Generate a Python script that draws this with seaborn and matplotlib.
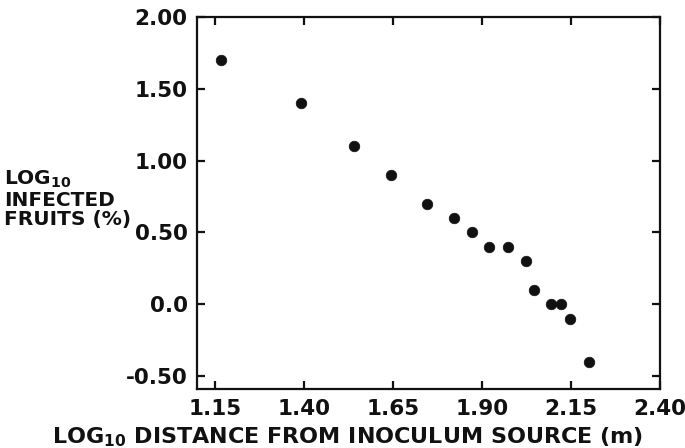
import pandas as pd
import seaborn as sns
import matplotlib.pyplot as plt

# Values
log_distance = [1.166, 1.393, 1.542, 1.645, 1.745, 1.821, 1.872, 1.920,
                1.974, 2.024, 2.046, 2.095, 2.122, 2.147, 2.200]
log_infected = [1.70, 1.40, 1.10, 0.90, 0.70, 0.60, 0.50, 0.40,
                0.40, 0.30, 0.10, 0.00, 0.00, -0.10, -0.40]

x_ticks = [1.15, 1.40, 1.65, 1.90, 2.15, 2.40]
x_tick_labels = ['1.15', '1.40', '1.65', '1.90', '2.15', '2.40']
y_ticks = [2.00, 1.50, 1.00, 0.50, 0.0, -0.50]
y_tick_labels = ['2.00', '1.50', '1.00', '0.50', '0.0', '-0.50']

df = pd.DataFrame({'distance': log_distance, 'infected': log_infected})

sns.set_style('ticks')
plt.rcParams['font.family'] = ['DejaVu Sans']
plt.rcParams['font.weight'] = 'bold'
plt.rcParams['mathtext.default'] = 'regular'

fig = plt.figure(figsize=(6.85, 4.48), dpi=100)
ax = fig.add_axes([0.288, 0.132, 0.675, 0.830])

sns.scatterplot(data=df, x='distance', y='infected', ax=ax,
                color='#111111', s=58, edgecolor='#111111', linewidth=0.5)

ax.set_xlim(1.10, 2.40)
ax.set_ylim(-0.59, 2.00)
ax.set_xticks(x_ticks)
ax.set_xticklabels(x_tick_labels)
ax.set_yticks(y_ticks)
ax.set_yticklabels(y_tick_labels)

for spine in ax.spines.values():
    spine.set_visible(True)
    spine.set_linewidth(1.6)
    spine.set_color('#111111')

ax.tick_params(direction='in', length=6, width=1.6, top=True, right=True,
               labelsize=15.5, colors='#111111', pad=7)

ax.set_xlabel('')
ax.set_ylabel('')

fig.text(0.006, 0.556, 'LOG$_{10}$\nINFECTED\nFRUITS (%)', ha='left', va='center',
         fontsize=14.5, fontweight='bold', linespacing=1.02, color='#111111')
fig.text(0.507, 0.025, 'LOG$_{10}$ DISTANCE FROM INOCULUM SOURCE (m)', ha='center', va='center',
         fontsize=16, fontweight='bold', color='#111111')

fig.savefig('out.png', dpi=100)
